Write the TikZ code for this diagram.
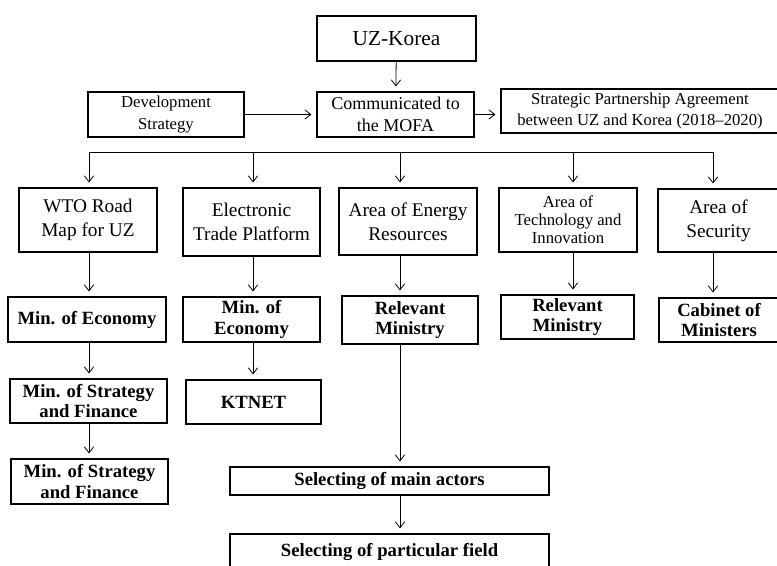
\documentclass[tikz,border=0pt]{standalone}
\usepackage{fontspec}
\setmainfont{Liberation Serif}
\usetikzlibrary{arrows.meta}
\tikzset{
  box/.style     = {shape=rectangle, draw, line width=1.3pt, align=center,
                    inner sep=1pt, font=\fontsize{14.5}{18}\selectfont},
  smallbox/.style = {box, font=\fontsize{12.5}{15.5}\selectfont},
  boldbox/.style = {box, font=\bfseries\fontsize{14}{15.5}\selectfont},
  boxsize/.style 2 args = {minimum width=#1*0.75pt, minimum height=#2*0.75pt},
  link/.style    = {-{Straight Barb[length=4.5pt,width=7pt]}, line width=0.6pt,
                    shorten >=3.5pt}
}

\begin{document}
\begin{tikzpicture}[x=0.75pt, y=-0.75pt]
  \useasboundingbox (0,0) rectangle (777,566);

  % top
  \node[box, font=\fontsize{16}{18}\selectfont, boxsize={159}{45}] (uz) at (396.5,38.5) {UZ-Korea};
  \node[smallbox, font=\fontsize{12.5}{16.5}\selectfont, boxsize={156}{45}] (dev) at (166,114.5) {Development\\Strategy};
  \node[box, font=\fontsize{13.5}{16.5}\selectfont, boxsize={157}{45}] (comm) at (395.5,114.5) {Communicated to\\the MOFA};
  \node[smallbox, boxsize={278}{44}] (spa) at (640,111) {Strategic Partnership Agreement\\between UZ and Korea (2018–2020)};

  % areas
  \node[box, boxsize={138}{64}] (wto) at (88,220) {WTO Road\\Map for UZ};
  \node[box, boxsize={137}{68}] (etp) at (251.5,222) {Electronic\\Trade Platform};
  \node[box, boxsize={138}{67}] (energy) at (408,221.5) {Area of Energy\\Resources};
  \node[smallbox, font=\fontsize{12.5}{13.5}\selectfont, boxsize={138}{64}] (tech) at (568,220) {Area of\\Technology and\\Innovation};
  \node[box, boxsize={121}{63}] (sec) at (718.5,220.5) {Area of\\Security};

  % ministries
  \node[boldbox, boxsize={158}{45}] (moe) at (87,319.5) {Min. of Economy};
  \node[boldbox, boxsize={137}{45}] (moe2) at (251.5,319.5) {Min. of\\Economy};
  \node[boldbox, boxsize={136}{48}] (relm) at (410,320) {Relevant\\Ministry};
  \node[boldbox, boxsize={133}{44}] (relm2) at (567.5,317) {Relevant\\Ministry};
  \node[boldbox, boxsize={120}{44}] (cab) at (719,320) {Cabinet of\\Ministers};

  \node[boldbox, boxsize={157}{44}] (msf) at (88.5,401) {Min. of Strategy\\and Finance};
  \node[boldbox, boxsize={135}{44}] (ktnet) at (253.5,402) {KTNET};
  \node[boldbox, boxsize={157}{45}] (msf2) at (89.5,481.5) {Min. of Strategy\\and Finance};

  \node[boldbox, boxsize={319}{28}] (actors) at (389.5,481) {Selecting of main actors};
  \node[boldbox, boxsize={319}{36}] (field) at (389.5,552) {Selecting of particular field};

  % bus
  \coordinate (b1) at (89,152);
  \coordinate (b2) at (253,152);
  \coordinate (b3) at (400,152);
  \coordinate (b4) at (573,152);
  \coordinate (b5) at (713,152);

  \draw[link] (uz) -- (comm);
  \draw[link] (dev) -- (comm);
  \draw[link] (comm.east) -- (comm.east -| spa.west);

  \draw[line width=0.6pt] (b1) -- (b5);
  \foreach \b/\n in {b1/wto, b2/etp, b3/energy, b4/tech, b5/sec}
    \draw[link] (\b) -- (\b |- \n.north);

  \draw[link] (wto.south -| b1) -- (moe.north -| b1);
  \draw[link] (etp.south -| b2) -- (moe2.north -| b2);
  \draw[link] (energy.south -| b3) -- (relm.north -| b3);
  \draw[link] (tech.south -| b4) -- (relm2.north -| b4);
  \draw[link] (sec.south -| b5) -- (cab.north -| b5);

  \draw[link] (moe.south -| b1) -- (msf.north -| b1);
  \draw[link] (msf.south -| b1) -- (msf2.north -| b1);
  \draw[link] (moe2.south -| b2) -- (ktnet.north -| b2);
  \draw[link] (relm.south -| b3) -- (actors.north -| b3);
  \draw[link] (actors.south -| b3) -- (field.north -| b3);
\end{tikzpicture}
\end{document}
